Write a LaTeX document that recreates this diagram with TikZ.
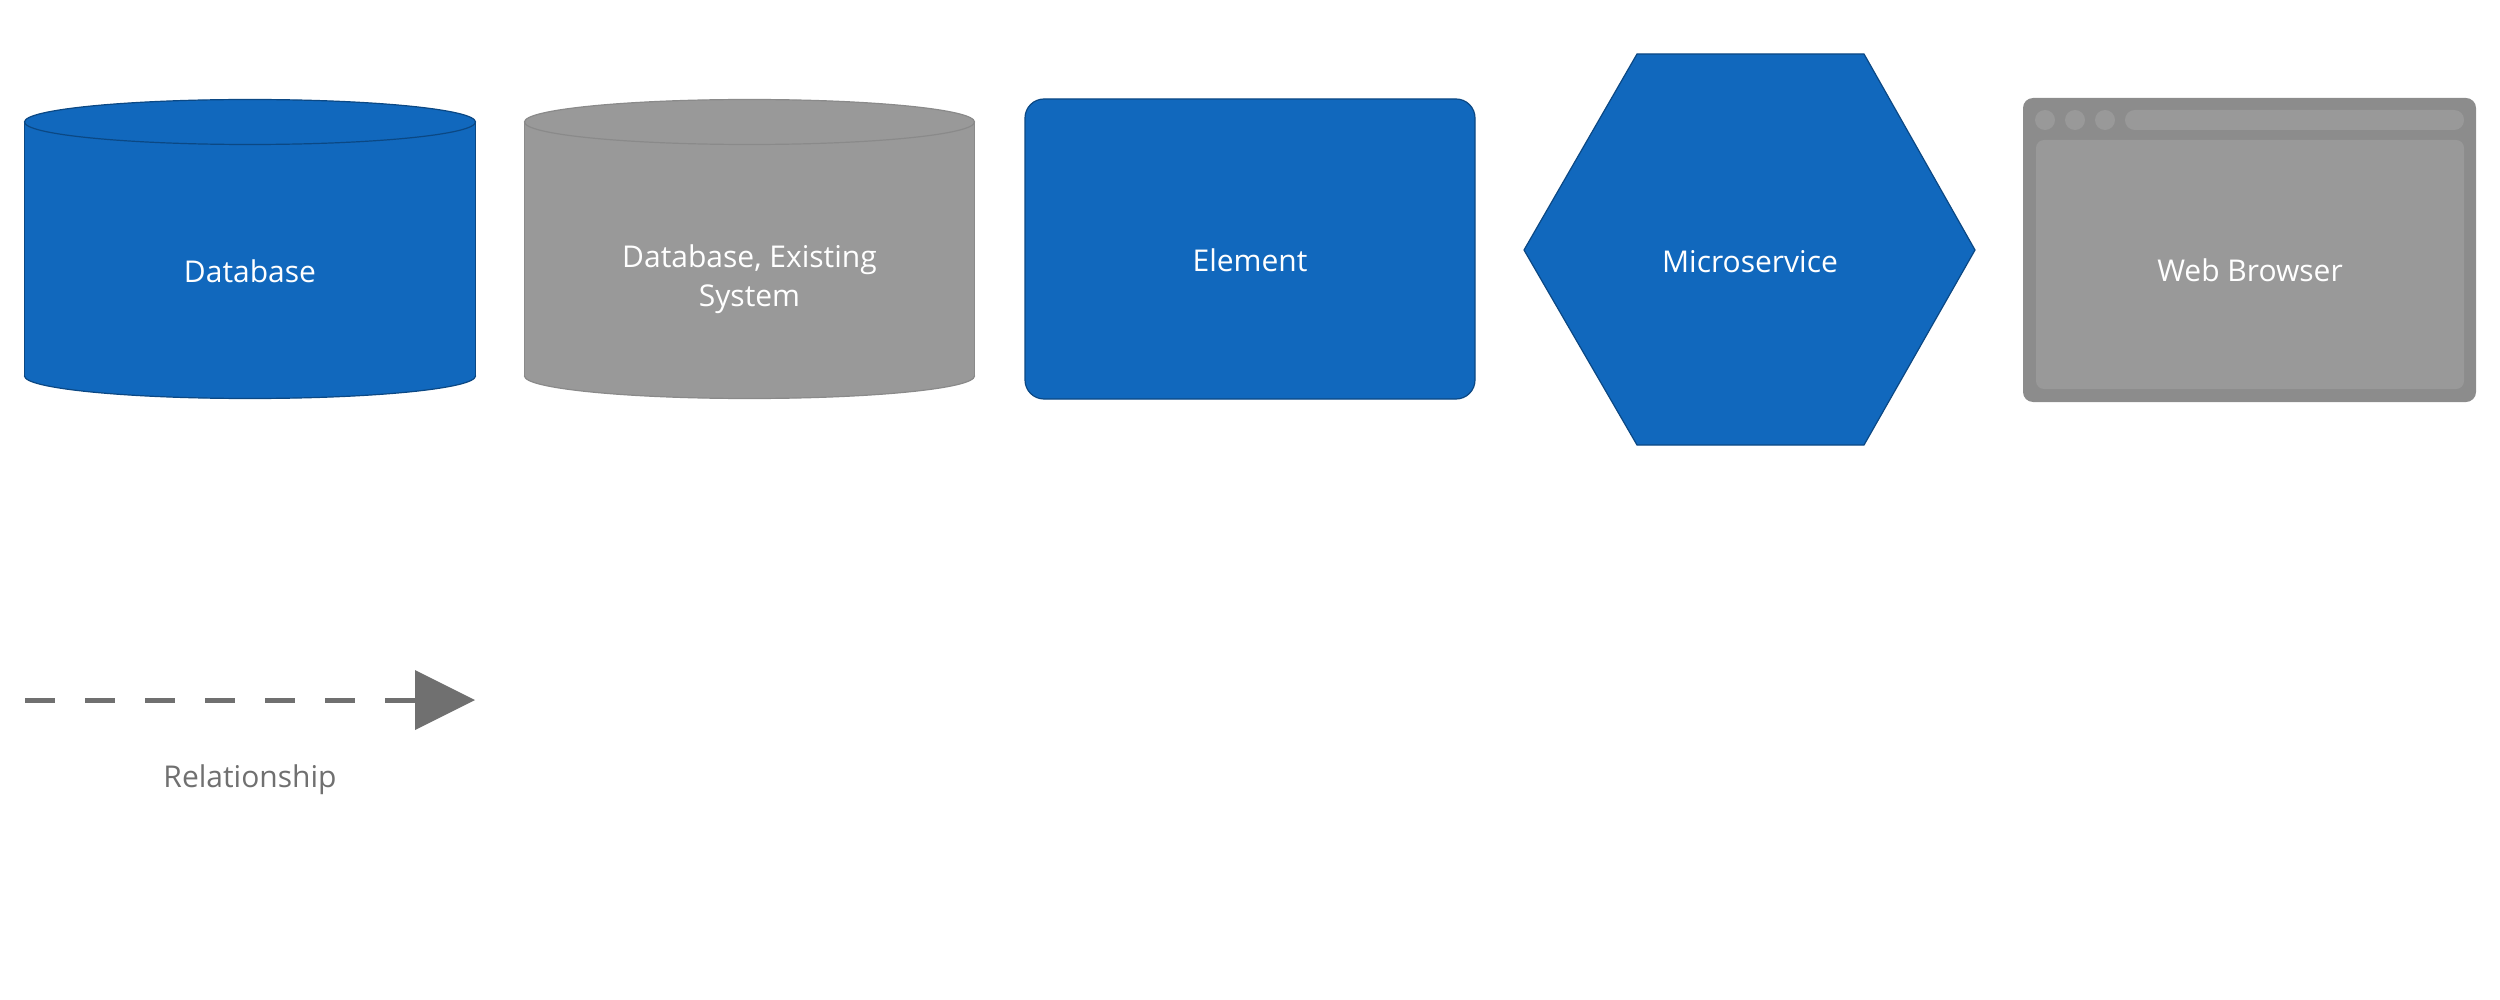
\documentclass[tikz,border=0pt]{standalone}
\usepackage{fontspec}
\setmainfont{Open Sans}
\usetikzlibrary{arrows.meta}
\definecolor{c4blue}{HTML}{1168BD}
\definecolor{c4bluestroke}{HTML}{0B4884}
\definecolor{c4gray}{HTML}{999999}
\definecolor{c4graystroke}{HTML}{8A8A8A}
\definecolor{browserframe}{HTML}{8C8C8C}
\definecolor{reltext}{HTML}{707070}
\tikzset{
  lbl/.style={text=white, font=\fontsize{15}{19.5}\selectfont, inner sep=0pt, align=center},
  rellbl/.style={text=reltext, font=\fontsize{15}{19.5}\selectfont, inner sep=0pt},
  bluefill/.style={fill=c4blue, draw=c4bluestroke, line width=0.6pt},
  grayfill/.style={fill=c4gray, draw=c4graystroke, line width=0.6pt},
  relline/.style={draw=reltext, line width=2.5pt, dash pattern=on 15pt off 15pt,
     -{Triangle[length=30pt,width=30pt,line width=0pt]}, fill=none},
}
\begin{document}
\begin{tikzpicture}[x=0.5pt,y=-0.5pt]
\useasboundingbox (0,0) rectangle (2500,1000);
% --- Database (blue cylinder)
\filldraw[bluefill] (250,376) ellipse [x radius=225.5, y radius=22.5];
\fill[c4blue] (24.5,122) rectangle (475.5,376);
\draw[c4bluestroke, line width=0.6pt] (24.5,122) -- (24.5,376) (475.5,122) -- (475.5,376);
\filldraw[bluefill] (250,122) ellipse [x radius=225.5, y radius=22.5];
\node[lbl, anchor=base] (db) at (250,283) {Database};
% --- Database, existing system (gray cylinder)
\filldraw[grayfill] (749.5,376) ellipse [x radius=225, y radius=22.5];
\fill[c4gray] (524.5,122) rectangle (974.5,376);
\draw[c4graystroke, line width=0.6pt] (524.5,122) -- (524.5,376) (974.5,122) -- (974.5,376);
\filldraw[grayfill] (749.5,122) ellipse [x radius=225, y radius=22.5];
\node[lbl] (dbx) at (749.5,279) {Database, Existing\\System};
% --- Element
\draw[bluefill, rounded corners=9.5pt] (1025,99) rectangle (1475,399);
\node[lbl, anchor=base] (el) at (1250,271) {Element};
% --- Microservice hexagon
\draw[bluefill, line join=miter] (1524,250) -- (1637,54) -- (1864,54) -- (1975,250) -- (1864,445) -- (1637,445) -- cycle;
\node[lbl, anchor=base] (ms) at (1750,272) {Microservice};
% --- Web browser
\fill[browserframe, rounded corners=5pt] (2023,98) rectangle (2476,402);
\fill[c4gray, rounded corners=4pt] (2036,140) rectangle (2464,389);
\fill[c4gray] (2045,120) circle [radius=10];
\fill[c4gray] (2075,120) circle [radius=10];
\fill[c4gray] (2105,120) circle [radius=10];
\fill[c4gray, rounded corners=4.9pt] (2125,110) rectangle (2464,130);
\node[lbl, anchor=base] (wb) at (2250,282) {Web Browser};
% --- Relationship
\coordinate (rs) at (25,700);
\coordinate (re) at (475,700);
\draw[relline] (rs) -- (re);
\node[rellbl, anchor=base] (rel) at (250,787) {Relationship};
\end{tikzpicture}
\end{document}
